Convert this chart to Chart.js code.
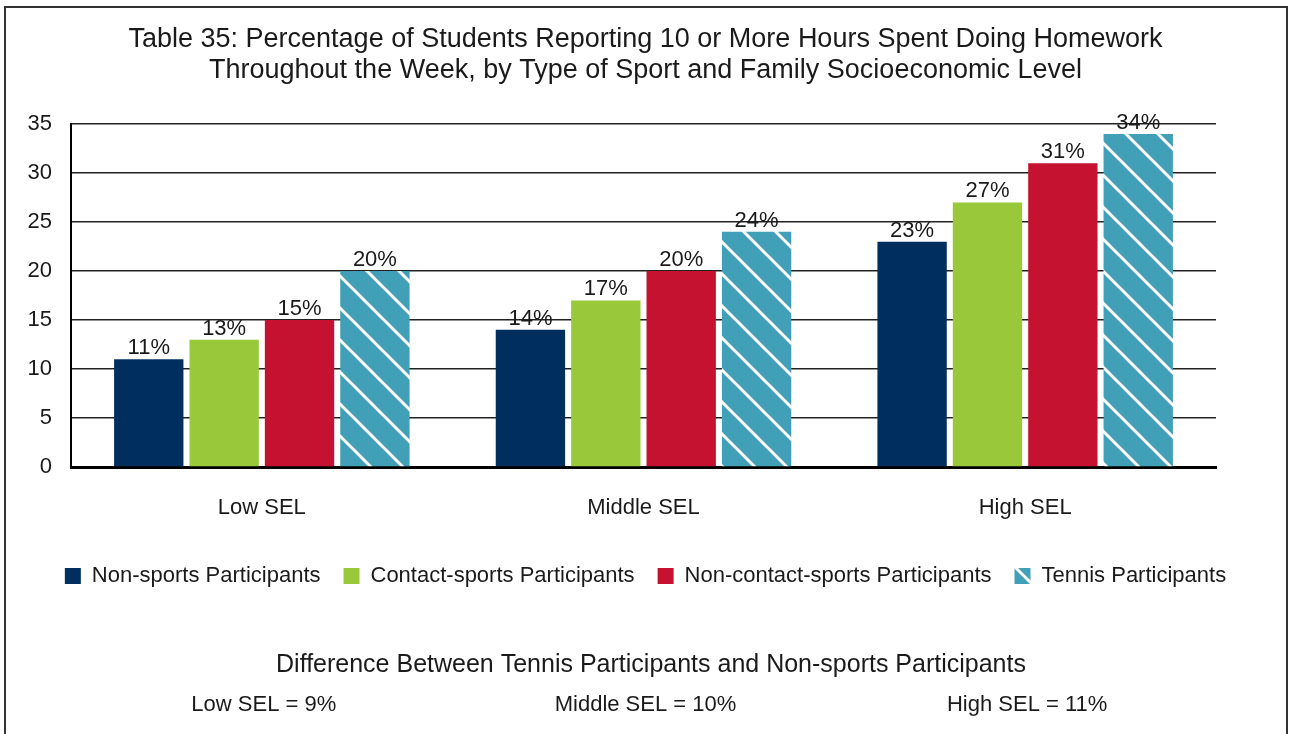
<!DOCTYPE html>
<html>
  <head>
    <title>Table 35: Homework Hours</title>
    <meta charset="utf-8">
    <style>
      body { margin: 0; background: #fff; }
      #chart { display: block; }
    </style>
  </head>
  <body>
    <canvas id="chart" width="1291" height="734"></canvas>

    <script src="https://cdn.jsdelivr.net/npm/chart.js"></script>
    <script>
      const categories = ['Low SEL', 'Middle SEL', 'High SEL'];
      const seriesNames = ['Non-sports Participants', 'Contact-sports Participants', 'Non-contact-sports Participants', 'Tennis Participants'];
      const nonSports = [11, 14, 23];
      const contactSports = [13, 17, 27];
      const nonContactSports = [15, 20, 31];
      const tennis = [20, 24, 34];
      const yTicks = [0, 5, 10, 15, 20, 25, 30, 35];
      const differences = [9, 10, 11];

      const FONT = "'Liberation Sans', Arial, Helvetica, sans-serif";

      // white diagonal stripes on teal for the tennis bars
      function stripePattern() {
        const s = 32;
        const tile = document.createElement('canvas');
        tile.width = s; tile.height = s;
        const c = tile.getContext('2d');
        c.fillStyle = '#41A0B8';
        c.fillRect(0, 0, s, s);
        c.strokeStyle = '#fff';
        c.lineWidth = 3;
        c.beginPath();
        c.moveTo(-5, -5); c.lineTo(s + 5, s + 5);
        c.moveTo(-5, s - 5); c.lineTo(5, s + 5);
        c.moveTo(s - 5, -5); c.lineTo(s + 5, 5);
        c.stroke();
        return c.createPattern(tile, 'repeat');
      }

      const ctx = document.getElementById('chart').getContext('2d');
      const tennisFill = stripePattern();

      const extras = {
        id: 'extras',
        beforeDraw(chart) {
          const c = chart.ctx;
          c.save();
          c.fillStyle = '#fff';
          c.fillRect(0, 0, chart.width, chart.height);
          c.strokeStyle = '#333';
          c.lineWidth = 2;
          c.strokeRect(5, 7, 1282, 760);
          c.restore();
        },
        afterDatasetsDraw(chart) {
          const c = chart.ctx;
          c.save();
          c.font = '22px ' + FONT;
          c.fillStyle = '#1a1a1a';
          c.textAlign = 'center';
          c.textBaseline = 'alphabetic';
          chart.data.datasets.forEach((ds, i) => {
            chart.getDatasetMeta(i).data.forEach((bar, j) => {
              c.fillText(ds.data[j] + '%', bar.x, bar.y - 5);
            });
          });
          c.restore();
        },
        afterDraw(chart) {
          const c = chart.ctx;
          const x = chart.scales.x;
          c.save();
          c.fillStyle = '#1a1a1a';
          c.textAlign = 'center';
          c.textBaseline = 'middle';
          c.font = '25px ' + FONT;
          c.fillText('Difference Between Tennis Participants and Non-sports Participants', 651, 665);
          c.font = '22px ' + FONT;
          categories.forEach((cat, i) => {
            c.fillText(cat + ' = ' + differences[i] + '%', x.getPixelForValue(i) + 2, 705);
          });
          c.restore();
        }
      };

      new Chart(ctx, {
        type: 'bar',
        data: {
          labels: categories,
          datasets: [
            { label: seriesNames[0], data: nonSports, backgroundColor: '#002F5F' },
            { label: seriesNames[1], data: contactSports, backgroundColor: '#9AC83B' },
            { label: seriesNames[2], data: nonContactSports, backgroundColor: '#C41230' },
            { label: seriesNames[3], data: tennis, backgroundColor: tennisFill }
          ]
        },
        options: {
          responsive: false,
          animation: false,
          datasets: {
            bar: { categoryPercentage: 0.79, barPercentage: 0.92 }
          },
          layout: { padding: { left: 0, right: 0, top: 0, bottom: 137 } },
          plugins: {
            tooltip: { enabled: false },
            title: {
              display: true,
              text: ['Table 35: Percentage of Students Reporting 10 or More Hours Spent Doing Homework',
                     'Throughout the Week, by Type of Sport and Family Socioeconomic Level'],
              color: '#1a1a1a',
              font: { family: FONT, size: 27, weight: 'normal', lineHeight: 1.15 },
              padding: { top: 24, bottom: 38 }
            },
            legend: {
              position: 'bottom',
              labels: {
                color: '#1a1a1a',
                font: { family: FONT, size: 22 },
                boxWidth: 16,
                boxHeight: 16,
                padding: 23
              }
            }
          },
          scales: {
            x: {
              grid: { display: false },
              border: { display: true, color: '#000', width: 3 },
              ticks: { color: '#1a1a1a', font: { family: FONT, size: 22 }, padding: 20 },
              afterFit(axis) { axis.height = 75; }
            },
            y: {
              min: 0,
              max: 35,
              afterBuildTicks(axis) { axis.ticks = yTicks.map(v => ({ value: v })); },
              grid: { color: '#222', lineWidth: 1.5, drawTicks: false },
              border: { display: true, color: '#000', width: 2 },
              ticks: { color: '#1a1a1a', font: { family: FONT, size: 22 }, padding: 19 },
              afterFit(axis) { axis.width = 71; }
            },
            yRight: {
              position: 'right',
              display: true,
              grid: { display: false },
              border: { display: false },
              ticks: { display: false },
              afterFit(axis) { axis.width = 75; }
            }
          }
        },
        plugins: [extras]
      });
    </script>
  </body>
</html>
